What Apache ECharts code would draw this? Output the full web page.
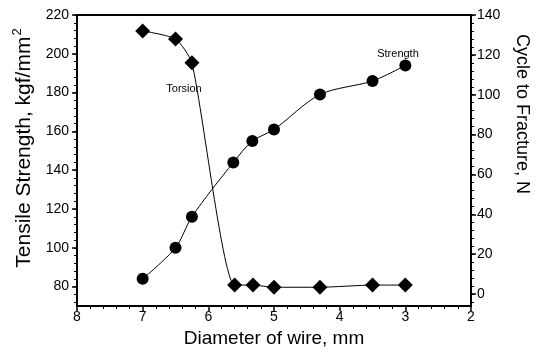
<!DOCTYPE html>
<html>
<head>
<meta charset="utf-8">
<script src="https://cdn.jsdelivr.net/npm/echarts@6/dist/echarts.min.js"></script>
<style>
html, body { margin: 0; padding: 0; background: #fff; }
#chart { width: 547px; height: 356px; }
</style>
</head>
<body>
<div id="chart"></div>
<script>
// diameter of wire, mm
var strengthDia = [7.0, 6.5, 6.25, 5.62, 5.33, 5.0, 4.3, 3.5, 3.0];
var strengthVal = [84, 100, 116, 144, 155, 161, 179, 186, 194];
var torsionDia = [7.0, 6.5, 6.25, 5.6, 5.32, 5.0, 4.3, 3.5, 3.0];
var torsionVal = [132, 128, 116, 4.5, 4.5, 3.4, 3.4, 4.5, 4.5];

var leftTicks = [80, 100, 120, 140, 160, 180, 200, 220];
var rightTicks = [0, 20, 40, 60, 80, 100, 120, 140];

function minorList(lo, hi, step){
    var out = [];
    for(var v = lo; v <= hi; v += step) out.push(v);
    return out;
}

function pairs(xs, ys){
    return xs.map(function(x, i){ return [x, ys[i]]; });
}

var font = 'Liberation Sans, Arial, sans-serif';

var option = {
    animation: false,
    backgroundColor: '#fff',
    grid: {
        left: 77, right: 76, top: 15, bottom: 50,
        show: true, borderColor: '#000', borderWidth: 2, backgroundColor: 'transparent'
    },
    xAxis: {
        type: 'value',
        inverse: true,
        min: 2, max: 8, interval: 1,
        name: 'Diameter of wire, mm',
        nameLocation: 'middle',
        nameGap: 23,
        nameTextStyle: { fontFamily: font, fontSize: 19, color: '#000' },
        axisLine: { onZero: false, lineStyle: { color: '#000', width: 2 } },
        axisTick: { inside: false, length: 5, lineStyle: { color: '#000', width: 1.5 } },
        minorTick: { show: true, splitNumber: 5, length: 3, lineStyle: { color: '#000', width: 1 } },
        axisLabel: { fontFamily: font, fontSize: 14, color: '#000', margin: 4 },
        splitLine: { show: false }
    },
    yAxis: [{
        type: 'value',
        position: 'left',
        min: 70, max: 220,
        axisLine: { show: true, onZero: false, lineStyle: { color: '#000', width: 2 } },
        axisTick: { show: true, length: 5, customValues: leftTicks, lineStyle: { color: '#000', width: 1.5 } },
        axisLabel: { fontFamily: font, fontSize: 14, color: '#000', margin: 8, customValues: leftTicks },
        splitLine: { show: false }
    }, {
        type: 'value',
        position: 'right',
        min: -6, max: 140,
        axisLine: { show: true, onZero: false, lineStyle: { color: '#000', width: 2 } },
        axisTick: { show: true, length: 5, customValues: rightTicks, lineStyle: { color: '#000', width: 1.5 } },
        axisLabel: { fontFamily: font, fontSize: 14, color: '#000', margin: 6, customValues: rightTicks },
        splitLine: { show: false }
    }, {
        // minor ticks, left
        type: 'value',
        position: 'left',
        min: 70, max: 220,
        axisLine: { show: false, onZero: false },
        axisTick: { show: true, length: 3, customValues: minorList(72, 220, 4), lineStyle: { color: '#000', width: 1 } },
        axisLabel: { show: false },
        splitLine: { show: false }
    }, {
        // minor ticks, right
        type: 'value',
        position: 'right',
        min: -6, max: 140,
        axisLine: { show: false, onZero: false },
        axisTick: { show: true, length: 3, customValues: minorList(-4, 140, 4), lineStyle: { color: '#000', width: 1 } },
        axisLabel: { show: false },
        splitLine: { show: false }
    }],
    graphic: [{
        type: 'text',
        x: 24, y: 148,
        rotation: Math.PI / 2,
        style: {
            text: 'Tensile Strength, kgf/mm{sup|2}',
            fontFamily: font, fontSize: 21, fill: '#000',
            align: 'center', verticalAlign: 'middle',
            rich: {
                sup: { fontFamily: font, fontSize: 13, fill: '#000', padding: [0, 0, 13, 1] }
            }
        }
    }, {
        type: 'text',
        x: 522, y: 114,
        rotation: -Math.PI / 2,
        style: {
            text: 'Cycle to Fracture, N',
            fontFamily: font, fontSize: 18, fill: '#000',
            align: 'center', verticalAlign: 'middle'
        }
    }, {
        type: 'text',
        x: 184, y: 89,
        style: {
            text: 'Torsion', fontFamily: font, fontSize: 11, fill: '#000',
            align: 'center', verticalAlign: 'middle'
        }
    }, {
        type: 'text',
        x: 398, y: 54,
        style: {
            text: 'Strength', fontFamily: font, fontSize: 11, fill: '#000',
            align: 'center', verticalAlign: 'middle'
        }
    }],
    series: [{
        name: 'Strength',
        type: 'line',
        yAxisIndex: 0,
        smooth: 0.3,
        symbol: 'circle',
        symbolSize: 12,
        data: pairs(strengthDia, strengthVal),
        lineStyle: { color: '#000', width: 1 },
        itemStyle: { color: '#000' }
    }, {
        name: 'Torsion',
        type: 'line',
        yAxisIndex: 1,
        smooth: 0.2,
        symbol: 'diamond',
        symbolSize: 15,
        data: pairs(torsionDia, torsionVal),
        lineStyle: { color: '#000', width: 1 },
        itemStyle: { color: '#000' }
    }]
};

var chart = echarts.init(document.getElementById('chart'));
chart.setOption(option);
</script>
</body>
</html>
